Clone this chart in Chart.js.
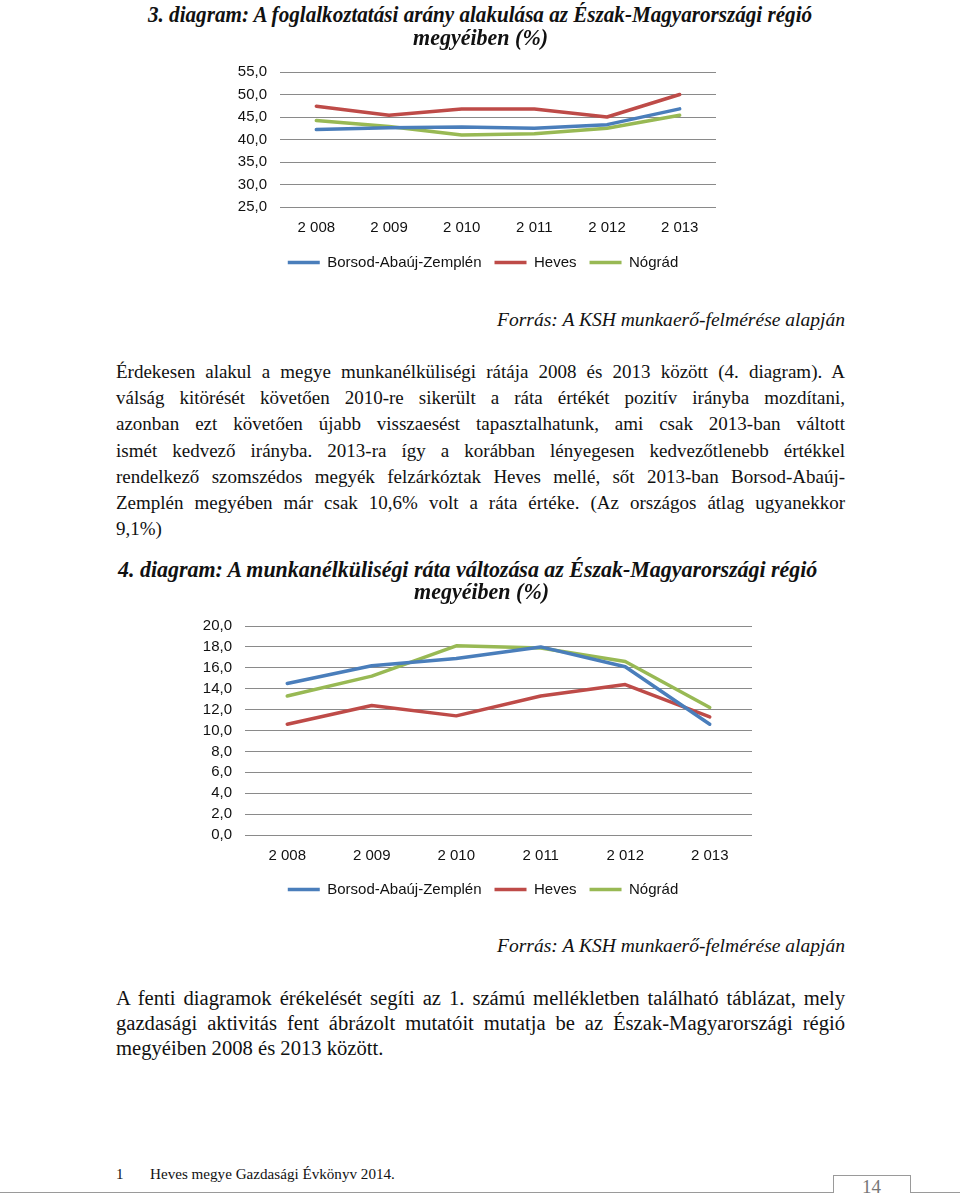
<!DOCTYPE html>
<html>
<head>
<meta charset="utf-8">
<script src="https://cdn.jsdelivr.net/npm/chart.js@4/dist/chart.umd.min.js"></script>
<style>
	body { margin: 0; width: 960px; height: 1196px; background: #fff; position: relative; overflow: hidden; font-family: 'Liberation Serif', serif; color: #111; }
	.ln { position: absolute; white-space: nowrap; transform-origin: 0 50%; }
	.just { white-space: normal; text-align: justify; text-align-last: justify; }
	.title { font-weight: bold; font-style: italic; font-size: 23px; line-height: 26px; }
	.src { font-style: italic; font-size: 19px; line-height: 24px; }
	.body { font-size: 19px; line-height: 24px; }
	.cond { font-size: 20px; line-height: 24px; }
	.foot { font-size: 15px; line-height: 18px; }
	canvas { position: absolute; }
	.rule { position: absolute; background: #9a9a9a; }
</style>
</head>
<body>
<canvas id="empChart" width="566" height="230" style="left:200px;top:50px"></canvas>
<canvas id="unempChart" width="646" height="303" style="left:160px;top:604px"></canvas>

<div class="rule" style="left:0;top:1192px;width:834px;height:1px"></div>
<div class="rule" style="left:833px;top:1175px;width:1px;height:18px"></div>
<div class="rule" style="left:833px;top:1175px;width:78px;height:1px"></div>
<div class="rule" style="left:910px;top:1175px;width:1px;height:18px"></div>
<div class="rule" style="left:910px;top:1192px;width:50px;height:1px"></div>
<div class="ln" style="left:862px;top:1177px;font-size:19px;line-height:20px;color:#777">14</div>

<script>
const years = ['2 008', '2 009', '2 010', '2 011', '2 012', '2 013'];
const countyNames = ['Borsod-Abaúj-Zemplén', 'Heves', 'Nógrád'];
const countyColors = ['#4a7ebb', '#be4b48', '#98b954'];

// 3. diagram: foglalkoztatási arány (%)
const empBAZ = [42.2, 42.6, 42.8, 42.5, 43.3, 46.8];
const empHeves = [47.4, 45.4, 46.8, 46.8, 45.0, 50.0];
const empNograd = [44.2, 42.9, 41.0, 41.3, 42.5, 45.4];

// 4. diagram: munkanélküliségi ráta (%)
const unempBAZ = [14.5, 16.2, 16.9, 18.0, 16.1, 10.6];
const unempHeves = [10.6, 12.4, 11.4, 13.3, 14.4, 11.3];
const unempNograd = [13.3, 15.2, 18.1, 17.9, 16.6, 12.2];

const tickFont = { family: 'Liberation Sans', size: 15 };

function lineChart(id, series, yMin, yMax, yStep, plotLeft, padTop, rightGap, xAxisH) {
	return new Chart(document.getElementById(id), {
		type: 'line',
		data: {
			labels: years,
			datasets: series.map((d, i) => ({
				label: countyNames[i],
				data: d,
				borderColor: countyColors[i],
				backgroundColor: countyColors[i],
				borderWidth: 3.5,
				pointRadius: 0,
				tension: 0,
				borderJoinStyle: 'round',
				borderCapStyle: 'round',
			})),
		},
		options: {
			responsive: false,
			animation: false,
			devicePixelRatio: 1,
			layout: { padding: { top: padTop, right: 0, left: 0, bottom: 0 } },
			plugins: {
				tooltip: { enabled: false },
				legend: {
					position: 'bottom',
					labels: {
						usePointStyle: true,
						pointStyle: 'line',
						pointStyleWidth: 32,
						boxHeight: 15,
						padding: 13,
						color: '#111',
						font: tickFont,
					},
				},
			},
			scales: {
				x: {
					offset: true,
					grid: { display: false, drawTicks: false },
					border: { display: false },
					ticks: { color: '#111', padding: 12, font: tickFont, maxRotation: 0, autoSkip: false },
					afterFit: (s) => { s.height = xAxisH; },
				},
				y: {
					min: yMin,
					max: yMax,
					grid: { color: '#8a8a8a', lineWidth: 1, drawTicks: false },
					border: { display: false },
					ticks: {
						stepSize: yStep,
						autoSkip: false,
						padding: 13,
						color: '#111',
						font: tickFont,
						callback: (v) => v.toFixed(1).replace('.', ','),
					},
					afterFit: (s) => { s.width = plotLeft; },
				},
				// empty spacer on the right so the legend stays centred on the page
				yRight: {
					position: 'right',
					grid: { display: false, drawTicks: false },
					border: { display: false },
					ticks: { display: false },
					afterFit: (s) => { s.width = rightGap; },
				},
			},
		},
	});
}

lineChart('empChart', [empBAZ, empHeves, empNograd], 25, 55, 5, 80, 12, 50, 35);
lineChart('unempChart', [unempBAZ, unempHeves, unempNograd], 0, 20, 2, 85, 16, 54, 34);

// page text: [text, class, left, centerY, width, mode]
// mode: 'fit' = squeeze to width, 'just' = justified to width, 'none' = natural
const lines = [
	['3. diagram: A foglalkoztatási arány alakulása az Észak-Magyarországi régió', 'title', 148, 15, 664, 'fit'],
	['megyéiben (%)', 'title', 413, 38, 135, 'fit'],
	['Forrás: A KSH munkaerő-felmérése alapján', 'src', 497, 320, 348, 'fit'],
	['Érdekesen alakul a megye munkanélküliségi rátája 2008 és 2013 között (4. diagram). A', 'body', 116, 372, 729, 'just'],
	['válság kitörését követően 2010-re sikerült a ráta értékét pozitív irányba mozdítani,', 'body', 116, 398, 729, 'just'],
	['azonban ezt követően újabb visszaesést tapasztalhatunk, ami csak 2013-ban váltott', 'body', 116, 424, 729, 'just'],
	['ismét kedvező irányba. 2013-ra így a korábban lényegesen kedvezőtlenebb értékkel', 'body', 116, 451, 729, 'just'],
	['rendelkező szomszédos megyék felzárkóztak Heves mellé, sőt 2013-ban Borsod-Abaúj-', 'body', 116, 477, 729, 'just'],
	['Zemplén megyében már csak 10,6% volt a ráta értéke. (Az országos átlag ugyanekkor', 'body', 116, 503, 729, 'just'],
	['9,1%)', 'body', 116, 529, 0, 'none'],
	['4. diagram: A munkanélküliségi ráta változása az Észak-Magyarországi régió', 'title', 118, 570, 699, 'fit'],
	['megyéiben (%)', 'title', 414, 592, 135, 'fit'],
	['Forrás: A KSH munkaerő-felmérése alapján', 'src', 497, 946, 348, 'fit'],
	['A fenti diagramok érékelését segíti az 1. számú mellékletben található táblázat, mely', 'cond', 116, 998, 729, 'cjust'],
	['gazdasági aktivitás fent ábrázolt mutatóit mutatja be az Észak-Magyarországi régió', 'cond', 116, 1023, 729, 'cjust'],
	['megyéiben 2008 és 2013 között.', 'cond', 116, 1048, 267, 'fit'],
	['1', 'foot', 116, 1174, 0, 'none'],
	['Heves megye Gazdasági Évkönyv  2014.', 'foot', 150, 1174, 245, 'fit'],
];

let condScale = 0.82;
const pending = [];
for (const [text, cls, left, cy, w, mode] of lines) {
	const el = document.createElement('div');
	el.className = 'ln ' + cls;
	el.textContent = text;
	el.style.left = left + 'px';
	document.body.appendChild(el);
	el.style.top = (cy - el.offsetHeight / 2) + 'px';
	if (mode === 'fit') {
		const s = w / el.scrollWidth;
		el.style.transform = `scaleX(${s})`;
		if (cls === 'cond') condScale = s;
	} else if (mode === 'just') {
		if (el.scrollWidth > w) {
			el.style.transform = `scaleX(${w / el.scrollWidth})`;
		} else {
			el.classList.add('just');
			el.style.width = w + 'px';
		}
	} else if (mode === 'cjust') {
		pending.push(el);
	}
}
for (const el of pending) {
	const natural = el.scrollWidth;
	const s = Math.min(condScale, 729 / natural);
	el.classList.add('just');
	el.style.width = (729 / s) + 'px';
	el.style.transform = `scaleX(${s})`;
}
</script>
</body>
</html>
